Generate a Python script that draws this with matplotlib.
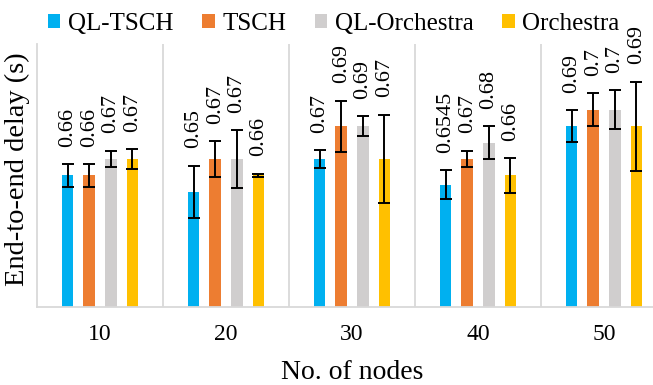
import numpy as np
import matplotlib
matplotlib.use("Agg")
import matplotlib.pyplot as plt

plt.rcParams['font.family'] = ['Liberation Serif', 'DejaVu Serif']

# data
nodes = ['10', '20', '30', '40', '50']
series = ['QL-TSCH', 'TSCH', 'QL-Orchestra', 'Orchestra']
colors = ['#00B0F0', '#ED7D31', '#D0CECE', '#FFC000']

ql_tsch = [0.66, 0.65, 0.67, 0.6545, 0.69]
tsch = [0.66, 0.67, 0.69, 0.67, 0.70]
ql_orch = [0.67, 0.67, 0.69, 0.68, 0.70]
orch = [0.67, 0.66, 0.67, 0.66, 0.69]

ql_tsch_err = [0.007, 0.016, 0.0055, 0.0088, 0.0097]
tsch_err = [0.007, 0.011, 0.0155, 0.005, 0.010]
ql_orch_err = [0.005, 0.0175, 0.006, 0.010, 0.012]
orch_err = [0.006, 0.001, 0.027, 0.0106, 0.027]

labels = [
    ['0.66', '0.65', '0.67', '0.6545', '0.69'],
    ['0.66', '0.67', '0.69', '0.67', '0.7'],
    ['0.67', '0.67', '0.69', '0.68', '0.7'],
    ['0.67', '0.66', '0.67', '0.66', '0.69'],
]

values = [ql_tsch, tsch, ql_orch, orch]
errors = [ql_tsch_err, tsch_err, ql_orch_err, orch_err]

fig = plt.figure(figsize=(6.53, 3.85), dpi=100)
# the right end of the plot area runs past the image edge, as in the original
ax = fig.add_axes([37 / 653, 78 / 385, 630 / 653, 263 / 385])

x = np.arange(len(nodes))
step = 0.171
width = 0.092
for i, (name, vals, errs) in enumerate(zip(series, values, errors)):
    pos = x + (i - 1.5) * step
    ax.bar(pos, vals, width, color=colors[i], label=name, zorder=2)
    ax.errorbar(pos, vals, yerr=errs, fmt='none', ecolor='black',
                elinewidth=1.4, capsize=4.5, capthick=1.4, zorder=3)
    for px, v, e, lab in zip(pos, vals, errs, labels[i]):
        ax.annotate(lab, (px, v + e), xytext=(0, 12.5), textcoords='offset points',
                    rotation=90, ha='center', va='bottom', fontsize=16,
                    family='Liberation Serif', annotation_clip=False)

for b in np.arange(0.5, len(nodes) - 0.5, 1):
    ax.axvline(b, color='#D9D9D9', lw=1.3, zorder=1)

ax.set_xlim(-0.5, len(nodes) - 0.5)
ax.set_ylim(0.58, 0.74)
ax.set_xticks(x)
ax.set_xticklabels(nodes, fontsize=17)
ax.set_yticks([])
ax.tick_params(axis='x', length=0, pad=12)

for s in ['top', 'right']:
    ax.spines[s].set_visible(False)
for s in ['left', 'bottom']:
    ax.spines[s].set_color('#D9D9D9')
    ax.spines[s].set_linewidth(1.3)

ax.set_xlabel('No. of nodes', fontsize=20, labelpad=11)
ax.set_ylabel('End-to-end delay (s)', fontsize=20.5)
ax.yaxis.set_label_coords(-0.011, 0.525)

fig.legend(loc='upper center', bbox_to_anchor=(0.511, 1.025), ncol=4,
           frameon=False, fontsize=18, handlelength=0.5, handleheight=0.5,
           handletextpad=0.3, columnspacing=1.15)

plt.savefig('out.png', dpi=100)
